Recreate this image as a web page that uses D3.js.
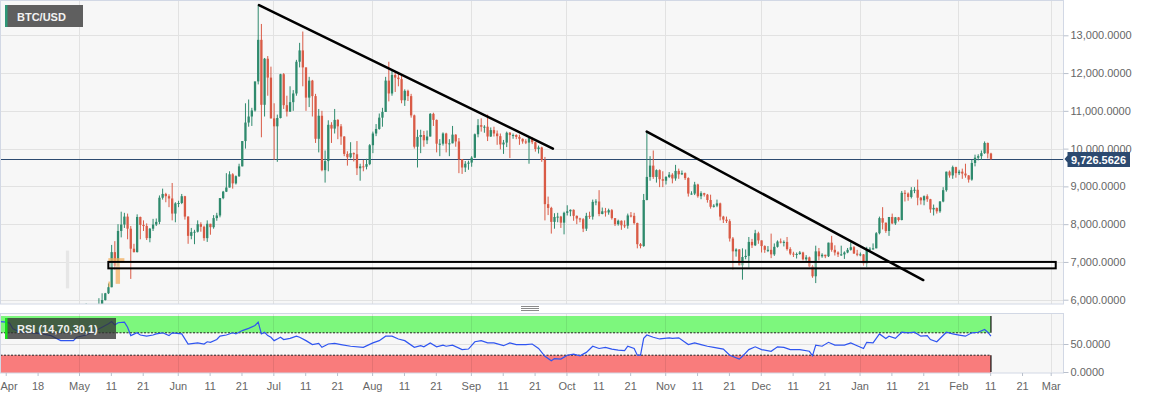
<!doctype html>
<html>
<head>
  <meta charset="utf-8">
  <title>BTC/USD</title>
  <script src="https://cdnjs.cloudflare.com/ajax/libs/d3/7.8.5/d3.min.js"></script>
  <style>
    html, body { margin: 0; padding: 0; background: #fff; }
    svg { display: block; font-family: "Liberation Sans", Arial, sans-serif; }
  </style>
</head>
<body>
<div id="chart"></div>
<script>
// daily candles, [open, high, low, close], one list per month
const may19 = [
  [5320,5400,5300,5385],[5385,5550,5370,5490],[5490,5900,5480,5750],[5750,5800,5550,5760],
  [5760,5780,5600,5720],[5720,5740,5600,5690],[5690,6040,5690,5860],[5860,6170,5830,5990],
  [5990,6180,5980,6170],[6170,6430,6150,6330],[6330,7450,6330,7260],[7260,7550,6800,6900],
  [6900,8000,6880,7820],[7820,8330,7650,7990],[7990,8300,7900,8200],[8200,8280,7600,7880],
  [7880,7950,6550,7350],[7350,7480,7250,7260],[7260,8260,7250,8190],[8190,8200,7600,7980],
  [7980,8100,7820,7950],[7950,8020,7580,7630],[7630,7900,7520,7880],[7880,8140,7820,7990],
  [7990,8150,7950,8060],[8060,8760,8000,8700],[8700,8940,8650,8800],[8800,8830,8580,8740],
  [8740,8790,8450,8680],[8680,9090,8100,8280],[8280,8580,8050,8550]
];
const jun19 = [
  [8550,8620,8450,8560],[8560,8800,8530,8740],[8740,8750,8120,8200],[8200,8210,7480,7690],
  [7690,7900,7600,7790],[7790,7850,7470,7800],[7800,8100,7780,8000],[8000,8050,7800,7930],
  [7930,7960,7560,7630],[7630,8100,7530,8010],[8010,8010,7720,7920],[7920,8240,7880,8160],
  [8160,8300,8090,8230],[8230,8690,8180,8690],[8690,8880,8660,8860],[8860,9350,8850,8970],
  [8970,9400,8970,9320],[9320,9350,8940,9080],[9080,9290,9050,9270],[9270,9600,9250,9530],
  [9530,10200,9530,10200],[10200,11200,10000,10690],[10690,11300,10580,10850],[10850,11080,10600,11010],
  [11010,11770,10980,11780],[11780,13800,11700,12880],[12880,13300,10300,11160],[11160,12400,10850,12380],
  [12380,12450,11400,11880],[11880,12170,10800,10800]
];
const jul19 = [
  [10800,11200,9700,10590],[10590,10900,9650,10810],[10810,11980,10800,11970],[11970,12000,11050,11150],
  [11150,11400,10850,10980],[10980,11650,10970,11230],[11230,11550,11000,11460],[11460,12350,11400,12300],
  [12300,12800,12150,12600],[12600,13100,11650,12150],[12150,12150,11000,11350],[11350,11900,11100,11800],
  [11800,11820,10850,11390],[11390,11450,10150,10260],[10260,11050,9900,10870],[10870,11000,9400,9430],
  [9430,9950,9100,9670],[9670,10750,9400,10630],[10630,10700,10150,10530],[10530,11050,10400,10760],
  [10760,10780,10250,10590],[10590,10650,10100,10320],[10320,10330,9800,9860],[9860,9930,9550,9770],
  [9770,10170,9740,9880],[9880,9900,9660,9850],[9850,10200,9300,9480],[9480,9600,9150,9530],
  [9530,9700,9400,9520],[9520,9730,9450,9590],[9590,10120,9560,10090]
];
const aug19 = [
  [10090,10450,9880,10400],[10400,10650,10330,10520],[10520,10930,10500,10820],[10820,11080,10580,10970],
  [10970,11900,10970,11800],[11800,12300,11250,11460],[11460,12100,11400,11950],[11950,12050,11500,11880],
  [11880,12030,11650,11840],[11840,11930,11200,11280],[11280,11570,11130,11530],[11530,11560,11260,11390],
  [11390,11450,10820,10880],[10880,10900,10000,10050],[10050,10500,9500,10310],[10310,10500,9880,10360],
  [10360,10470,10050,10220],[10220,10480,10120,10320],[10320,10940,10320,10920],[10920,10950,10600,10760],
  [10760,10770,9900,10130],[10130,10250,9800,10130],[10130,10430,10080,10400],[10400,10420,9900,10130],
  [10130,10250,9800,10140],[10140,10600,10140,10370],[10370,10380,10050,10190],[10190,10280,9350,9720],
  [9720,9720,9330,9500],[9500,9670,9380,9600],[9600,9680,9440,9630]
];
const sep19 = [
  [9630,9800,9520,9760],[9760,10400,9750,10380],[10380,10780,10300,10620],[10620,10800,10450,10580],
  [10580,10620,10420,10580],[10580,10900,10200,10320],[10320,10560,10310,10490],[10490,10580,10320,10400],
  [10400,10480,10100,10330],[10330,10400,9980,10110],[10110,10230,9860,10160],[10160,10450,10040,10420],
  [10420,10440,9750,10360],[10360,10400,10260,10360],[10360,10380,10250,10310],[10310,10370,10100,10260],
  [10260,10270,10130,10190],[10190,10250,10120,10160],[10160,10300,9600,10280],[10280,10300,10120,10170],
  [10170,10180,9920,9990],[9990,10080,9870,10030],[10030,10050,9650,9700],[9700,9780,8100,8530],
  [8530,8730,8240,8430],[8430,8460,7750,8060],[8060,8290,7880,8190],[8190,8300,8050,8200],
  [8200,8220,7900,8040],[8040,8330,7730,8300]
];
const oct19 = [
  [8300,8500,8230,8340],[8340,8390,8210,8380],[8380,8390,8090,8220],[8220,8230,8000,8150],
  [8150,8170,8050,8130],[8130,8160,7790,7880],[7880,8300,7820,8220],[8220,8330,8140,8200],
  [8200,8650,8120,8590],[8590,8660,8500,8600],[8600,8900,8210,8270],[8270,8440,8260,8340],
  [8340,8430,8200,8310],[8310,8410,8250,8370],[8370,8400,8120,8160],[8160,8160,7950,8000],
  [8000,8120,7960,8090],[8090,8100,7850,7970],[7970,8100,7900,7960],[7960,8280,7880,8230],
  [8230,8320,8180,8220],[8220,8300,7990,8030],[8030,8040,7360,7470],[7470,7500,7360,7420],
  [7420,8800,7400,8640],[8640,10440,8630,9250],[9250,9800,9150,9550],[9550,9950,9200,9250],
  [9250,9450,9100,9430],[9430,9450,8980,9190],[9190,9400,8980,9150]
];
const nov19 = [
  [9150,9270,9050,9250],[9250,9380,9220,9310],[9310,9350,9080,9210],[9210,9570,9150,9410],
  [9410,9470,9200,9320],[9320,9420,9300,9350],[9350,9370,9170,9220],[9220,9240,8730,8810],
  [8810,8870,8780,8810],[8810,9120,8770,9050],[9050,9070,8700,8740],[8740,8870,8660,8820],
  [8820,8830,8730,8780],[8780,8800,8570,8640],[8640,8780,8410,8460],[8460,8530,8440,8490],
  [8490,8650,8450,8550],[8550,8570,8100,8200],[8200,8220,8030,8120],[8120,8200,8030,8080],
  [8080,8130,7540,7620],[7620,7660,6800,7280],[7280,7360,7140,7330],[7330,7340,6910,6910],
  [6910,7360,6530,7130],[7130,7330,7070,7160],[7160,7660,6850,7530],[7530,7610,7370,7440],
  [7440,7850,7420,7760],[7760,7800,7480,7570]
];
const dec19 = [
  [7570,7570,7250,7420],[7420,7440,7240,7320],[7320,7420,7260,7320],[7320,7750,7100,7200],
  [7200,7490,7160,7400],[7400,7570,7380,7540],[7540,7620,7490,7520],[7520,7570,7410,7530],
  [7530,7660,7300,7340],[7340,7390,7180,7220],[7220,7270,7130,7200],[7200,7250,7090,7210],
  [7210,7290,7190,7250],[7250,7270,7040,7070],[7070,7180,7030,7120],[7120,7140,6860,6880],
  [6880,6920,6580,6620],[6620,7430,6440,7280],[7280,7370,7040,7150],[7150,7230,7110,7190],
  [7190,7190,7100,7150],[7150,7510,7130,7510],[7510,7690,7270,7320],[7320,7440,7170,7250],
  [7250,7280,7130,7200],[7200,7430,7160,7200],[7200,7280,7080,7250],[7250,7370,7230,7320],
  [7320,7520,7300,7390],[7390,7420,7220,7220],[7220,7320,7150,7190]
];
const jan20 = [
  [7190,7250,7150,7200],[7200,7210,6900,6960],[6960,7400,6860,7340],[7340,7390,7280,7350],
  [7350,7490,7320,7360],[7360,7790,7360,7760],[7760,8200,7730,8160],[8160,8450,7860,8040],
  [8040,8040,7770,7820],[7820,8180,7690,8190],[8190,8280,8000,8020],[8020,8190,7980,8180],
  [8180,8190,8070,8110],[8110,8880,8100,8830],[8830,8900,8600,8810],[8810,8840,8620,8720],
  [8720,8980,8680,8900],[8900,8980,8820,8910],[8910,9180,8500,8700],[8700,8720,8520,8630],
  [8630,8760,8500,8740],[8740,8790,8590,8660],[8660,8670,8300,8390],[8390,8520,8230,8430],
  [8430,8440,8280,8340],[8340,8610,8300,8600],[8600,8980,8580,8900],[8900,9390,8860,9390],
  [9390,9420,9230,9290],[9290,9550,9200,9510],[9510,9520,9230,9350]
];
const feb20 = [
  [9350,9440,9300,9390],[9390,9470,9200,9340],[9340,9600,9230,9290],[9290,9300,9100,9180],
  [9180,9700,9150,9620],[9620,9840,9530,9760],[9760,9850,9690,9800],[9800,9950,9700,9880],
  [9880,10190,9860,10150],[10150,10160,9740,9870],[9870,9890,9700,9726.5626]
];
const candleMonths = [
  ["2019-05-01", may19], ["2019-06-01", jun19], ["2019-07-01", jul19], ["2019-08-01", aug19],
  ["2019-09-01", sep19], ["2019-10-01", oct19], ["2019-11-01", nov19], ["2019-12-01", dec19],
  ["2020-01-01", jan20], ["2020-02-01", feb20]
];
const lastPrice = 9726.5626;

// RSI (14)
const rsi = [
  ["2019-04-06",90],["2019-04-08",89],["2019-04-09",87],["2019-04-10",77],["2019-04-12",72],
  ["2019-04-16",70],["2019-04-19",68],["2019-04-22",65],["2019-04-25",56],["2019-04-29",56],
  ["2019-04-30",62],["2019-05-03",66],["2019-05-06",74],["2019-05-08",80],["2019-05-10",86],
  ["2019-05-11",90],["2019-05-12",84],["2019-05-13",88],["2019-05-15",89],["2019-05-16",80],
  ["2019-05-17",65],["2019-05-19",70],["2019-05-20",66],["2019-05-22",64],["2019-05-24",66],
  ["2019-05-25",68],["2019-05-27",70],["2019-05-29",65],["2019-05-30",70],["2019-06-02",68],
  ["2019-06-04",50],["2019-06-07",52],["2019-06-09",50],["2019-06-10",54],["2019-06-11",53],
  ["2019-06-13",58],["2019-06-14",64],["2019-06-16",66],["2019-06-18",70],["2019-06-19",68],
  ["2019-06-21",74],["2019-06-23",78],["2019-06-25",83],["2019-06-26",89],["2019-06-27",68],
  ["2019-06-28",71],["2019-06-29",65],["2019-06-30",62],["2019-07-01",56],["2019-07-02",59],
  ["2019-07-03",62],["2019-07-04",58],["2019-07-06",60],["2019-07-08",64],["2019-07-09",62],
  ["2019-07-11",56],["2019-07-13",49],["2019-07-15",51],["2019-07-16",44],["2019-07-18",50],
  ["2019-07-20",51],["2019-07-22",49],["2019-07-25",46],["2019-07-29",44],["2019-08-01",52],
  ["2019-08-03",56],["2019-08-05",64],["2019-08-07",64],["2019-08-09",59],["2019-08-11",56],
  ["2019-08-14",44],["2019-08-16",47],["2019-08-17",45],["2019-08-19",52],["2019-08-21",45],
  ["2019-08-23",48],["2019-08-24",46],["2019-08-26",48],["2019-08-29",40],["2019-08-31",41],
  ["2019-09-02",54],["2019-09-04",56],["2019-09-06",52],["2019-09-08",52],["2019-09-11",47],
  ["2019-09-13",52],["2019-09-15",49],["2019-09-18",49],["2019-09-20",50],["2019-09-22",42],
  ["2019-09-24",28],["2019-09-26",20],["2019-09-27",24],["2019-09-29",23],["2019-10-01",30],
  ["2019-10-03",32],["2019-10-05",29],["2019-10-07",35],["2019-10-09",46],["2019-10-11",42],
  ["2019-10-13",44],["2019-10-15",41],["2019-10-17",39],["2019-10-19",38],["2019-10-20",46],
  ["2019-10-22",42],["2019-10-23",30],["2019-10-24",30],["2019-10-25",60],["2019-10-26",66],
  ["2019-10-28",62],["2019-10-30",59],["2019-11-02",61],["2019-11-03",60],["2019-11-05",61],
  ["2019-11-08",49],["2019-11-10",52],["2019-11-12",49],["2019-11-14",46],["2019-11-16",44],
  ["2019-11-19",41],["2019-11-21",30],["2019-11-24",23],["2019-11-25",28],["2019-11-27",40],
  ["2019-11-29",45],["2019-12-01",40],["2019-12-04",37],["2019-12-06",45],["2019-12-08",44],
  ["2019-12-10",40],["2019-12-13",40],["2019-12-16",37],["2019-12-17",29],["2019-12-18",48],
  ["2019-12-20",46],["2019-12-22",53],["2019-12-24",48],["2019-12-27",48],["2019-12-29",52],
  ["2019-12-31",47],["2020-01-02",42],["2020-01-03",53],["2020-01-05",52],["2020-01-07",68],
  ["2020-01-09",60],["2020-01-10",64],["2020-01-12",60],["2020-01-14",71],["2020-01-16",70],
  ["2020-01-18",71],["2020-01-20",64],["2020-01-22",65],["2020-01-23",58],["2020-01-25",54],
  ["2020-01-28",71],["2020-01-30",68],["2020-02-01",66],["2020-02-03",64],["2020-02-05",70],
  ["2020-02-07",71],["2020-02-09",76],["2020-02-10",71],["2020-02-11",64]
];

// axis ticks
const priceTicks = [6000, 7000, 8000, 9000, 10000, 11000, 12000, 13000];
const rsiTicks = [0, 50];
const xTickDates = ["2019-04-08","2019-04-18","2019-05-01","2019-05-11","2019-05-21","2019-06-01","2019-06-11",
  "2019-06-21","2019-07-01","2019-07-11","2019-07-21","2019-08-01","2019-08-11","2019-08-21","2019-09-01",
  "2019-09-11","2019-09-21","2019-10-01","2019-10-11","2019-10-21","2019-11-01","2019-11-11","2019-11-21",
  "2019-12-01","2019-12-11","2019-12-21","2020-01-01","2020-01-11","2020-01-21","2020-02-01","2020-02-11",
  "2020-02-21","2020-03-01"];
const xTickLabels = ["Apr","18","May","11","21","Jun","11","21","Jul","11","21","Aug","11","21","Sep",
  "11","21","Oct","11","21","Nov","11","21","Dec","11","21","Jan","11","21","Feb","11","21","Mar"];

// drawings on the price panel
const trendLines = [
  [["2019-06-26T12:00", 13800], ["2019-09-26T18:00", 10000]],
  [["2019-10-26T05:00", 10450], ["2020-01-21T00:00", 6520]]
];
const supportZone = [["2019-05-10T05:00", 7000], ["2020-03-02T14:00", 6830]];
const highlights = [
  [["2019-05-10T05:00", 7100], ["2019-05-15T06:00", 7000]],
  [["2019-05-12T12:00", 7000], ["2019-05-13T21:00", 6420]],
  [["2019-05-10T05:00", 6480], ["2019-05-10T20:00", 6340]]
];
const greyMark = [["2019-04-26T21:00", 7300], ["2019-04-27T22:00", 6300]];

// ---------------------------------------------------------------
const W = 1153, H = 399;
const main = { left: 0.5, right: 1063.5, top: 0.5, bottom: 304 };
const low = { top: 313.5, bottom: 373 };
const green = '#2f8a6d', red = '#d95b46';
const fontFam = '"Liberation Sans", Arial, sans-serif';
const crisp = v => Math.round(v) + 0.5;

const parseDay = d3.utcParse('%Y-%m-%d');
const parseHour = d3.utcParse('%Y-%m-%dT%H:%M');

const candles = [];
candleMonths.forEach(([start, rows]) => {
  const d0 = parseDay(start);
  rows.forEach((r, i) => candles.push({ date: d3.utcDay.offset(d0, i), o: r[0], h: r[1], l: r[2], c: r[3] }));
});

const x = d3.scaleUtc()
  .domain([parseDay('2019-05-01'), parseDay('2020-02-01')])
  .range([79, 958.3]);
const y = d3.scaleLinear().domain([6000, 13000]).range([299.7, 35.3]);
const ry = d3.scaleLinear().domain([0, 100]).range([372, 316]);
// bars sit a quarter day right of the date line
const cx = d => x(d3.utcHour.offset(d, 6));

const svg = d3.select('#chart').append('svg').attr('width', W).attr('height', H);
svg.append('rect').attr('width', W).attr('height', H).attr('fill', '#fff');

const defs = svg.append('defs');
defs.append('clipPath').attr('id', 'clipMain').append('rect')
  .attr('x', main.left).attr('y', main.top)
  .attr('width', main.right - main.left).attr('height', main.bottom - main.top);
defs.append('clipPath').attr('id', 'clipLow').append('rect')
  .attr('x', main.left).attr('y', low.top)
  .attr('width', main.right - main.left).attr('height', low.bottom - low.top);

// panel backgrounds
[[main.top, main.bottom], [low.top, low.bottom]].forEach(([t, b]) => {
  svg.append('rect').attr('x', main.left).attr('y', t)
    .attr('width', main.right - main.left).attr('height', b - t)
    .attr('fill', '#f7f7f7');
});

const months = d3.utcMonth.range(parseDay('2019-04-01'), parseDay('2020-03-02'));

// ---------- price panel ----------
const gMain = svg.append('g').attr('clip-path', 'url(#clipMain)');
gMain.selectAll('.hgrid').data(priceTicks).join('line')
  .attr('x1', main.left).attr('x2', main.right)
  .attr('y1', d => crisp(y(d))).attr('y2', d => crisp(y(d)))
  .attr('stroke', '#e2e2e2').attr('stroke-width', 1);
gMain.selectAll('.vgrid').data(months).join('line')
  .attr('x1', d => crisp(x(d))).attr('x2', d => crisp(x(d)))
  .attr('y1', main.top).attr('y2', main.bottom)
  .attr('stroke', '#e2e2e2').attr('stroke-width', 1);

gMain.append('rect')
  .attr('x', x(parseHour(greyMark[0][0]))).attr('y', y(greyMark[0][1]))
  .attr('width', x(parseHour(greyMark[1][0])) - x(parseHour(greyMark[0][0])))
  .attr('height', y(greyMark[1][1]) - y(greyMark[0][1]))
  .attr('fill', '#e6e6e6');

// last price line
gMain.append('line')
  .attr('x1', main.left).attr('x2', main.right)
  .attr('y1', crisp(y(lastPrice))).attr('y2', crisp(y(lastPrice)))
  .attr('stroke', '#2c4a70').attr('stroke-width', 1);

const bars = gMain.append('g').selectAll('g').data(candles).join('g');
bars.append('line')
  .attr('x1', d => cx(d.date)).attr('x2', d => cx(d.date))
  .attr('y1', d => y(d.h)).attr('y2', d => y(d.l))
  .attr('stroke', d => d.c >= d.o ? green : red).attr('stroke-width', 1);
bars.append('rect')
  .attr('x', d => cx(d.date) - 1.15).attr('width', 2.3)
  .attr('y', d => y(Math.max(d.o, d.c)))
  .attr('height', d => Math.max(1, Math.abs(y(d.o) - y(d.c))))
  .attr('fill', d => d.c >= d.o ? green : red);

gMain.selectAll('.hl').data(highlights).join('rect')
  .attr('x', d => x(parseHour(d[0][0]))).attr('y', d => y(d[0][1]))
  .attr('width', d => x(parseHour(d[1][0])) - x(parseHour(d[0][0])))
  .attr('height', d => y(d[1][1]) - y(d[0][1]))
  .attr('fill', '#f3b061').attr('opacity', 0.75);

gMain.append('rect')
  .attr('x', x(parseHour(supportZone[0][0]))).attr('y', y(supportZone[0][1]))
  .attr('width', x(parseHour(supportZone[1][0])) - x(parseHour(supportZone[0][0])))
  .attr('height', y(supportZone[1][1]) - y(supportZone[0][1]))
  .attr('fill', 'rgba(255,255,255,0.35)').attr('stroke', '#000').attr('stroke-width', 2);

gMain.selectAll('.trend').data(trendLines).join('line')
  .attr('x1', d => x(parseHour(d[0][0]))).attr('y1', d => y(d[0][1]))
  .attr('x2', d => x(parseHour(d[1][0]))).attr('y2', d => y(d[1][1]))
  .attr('stroke', '#000').attr('stroke-width', 2.5).attr('stroke-linecap', 'round');

svg.append('rect').attr('x', main.left).attr('y', main.top)
  .attr('width', main.right - main.left).attr('height', main.bottom - main.top)
  .attr('fill', 'none').attr('stroke', '#d2d8e5');

// price axis
const styleAxis = g => {
  g.select('.domain').remove();
  g.selectAll('line').attr('stroke', '#b9c0cc');
  g.selectAll('text').attr('fill', '#666').attr('font-size', 11).attr('font-family', fontFam);
};
svg.append('g').attr('transform', `translate(${main.right},0)`)
  .call(d3.axisRight(y).tickValues(priceTicks).tickFormat(d3.format(',.4f')).tickSize(5).tickPadding(2))
  .call(styleAxis);

// last price tag
const ly = Math.round(y(lastPrice));
svg.append('path')
  .attr('d', `M${main.right + 1},${ly} L${main.right + 4},${ly - 3.5} L${main.right + 4},${ly - 7} L1130,${ly - 7} L1130,${ly + 8} L${main.right + 4},${ly + 8} L${main.right + 4},${ly + 3.5} Z`)
  .attr('fill', '#2c4a70');
svg.append('text').attr('x', 1071).attr('y', ly + 4.5)
  .attr('fill', '#fff').attr('font-size', 11).attr('font-weight', 'bold')
  .attr('font-family', fontFam)
  .text(d3.format(',.4f')(lastPrice));

// BTC/USD tag
svg.append('rect').attr('x', 5).attr('y', 5).attr('width', 78).attr('height', 22).attr('fill', '#5f5f5f');
svg.append('rect').attr('x', 5).attr('y', 5).attr('width', 2.5).attr('height', 22).attr('fill', '#2e9777');
svg.append('text').attr('x', 17).attr('y', 20.5)
  .attr('fill', '#f2f2f2').attr('font-size', 11).attr('font-weight', 'bold')
  .attr('font-family', fontFam).text('BTC/USD');

// splitter handle
svg.append('g').selectAll('line').data([0, 2, 4]).join('line')
  .attr('x1', 521).attr('x2', 539)
  .attr('y1', d => 306.5 + d).attr('y2', d => 306.5 + d)
  .attr('stroke', '#8a8a8a').attr('stroke-width', 1);

// ---------- RSI panel ----------
const gLow = svg.append('g').attr('clip-path', 'url(#clipLow)');
const lastX = cx(candles[candles.length - 1].date);
gLow.append('rect').attr('x', main.left).attr('y', ry(100))
  .attr('width', lastX - main.left).attr('height', ry(70) - ry(100))
  .attr('fill', '#7df77d');
gLow.append('rect').attr('x', main.left).attr('y', ry(30))
  .attr('width', lastX - main.left).attr('height', low.bottom - ry(30))
  .attr('fill', '#f97c7c');
[70, 30].forEach(v => {
  gLow.append('line').attr('x1', main.left).attr('x2', lastX)
    .attr('y1', ry(v)).attr('y2', ry(v))
    .attr('stroke', '#222').attr('stroke-width', 1).attr('stroke-dasharray', '2,1.5');
});
[[100, 70], [30, 0]].forEach(([a, b]) => {
  gLow.append('line').attr('x1', lastX).attr('x2', lastX)
    .attr('y1', ry(a)).attr('y2', ry(b)).attr('stroke', '#111').attr('stroke-width', 1.2);
});
gLow.selectAll('.vgrid').data(months).join('line')
  .attr('x1', d => crisp(x(d))).attr('x2', d => crisp(x(d)))
  .attr('y1', low.top).attr('y2', low.bottom)
  .attr('stroke', 'rgba(0,0,0,0.08)');
gLow.append('line').attr('x1', main.left).attr('x2', main.right)
  .attr('y1', crisp(ry(50))).attr('y2', crisp(ry(50))).attr('stroke', 'rgba(0,0,0,0.09)');

gLow.append('path')
  .datum(rsi)
  .attr('fill', 'none').attr('stroke', '#2f55f0').attr('stroke-width', 1.2)
  .attr('d', d3.line().x(d => cx(parseDay(d[0]))).y(d => ry(d[1])));

svg.append('rect').attr('x', main.left).attr('y', low.top)
  .attr('width', main.right - main.left).attr('height', low.bottom - low.top)
  .attr('fill', 'none').attr('stroke', '#d2d8e5');

// RSI tag
svg.append('rect').attr('x', 5).attr('y', 318).attr('width', 111).attr('height', 21)
  .attr('fill', '#333').attr('opacity', 0.78);
svg.append('rect').attr('x', 5).attr('y', 318).attr('width', 2.5).attr('height', 21).attr('fill', '#19e019');
svg.append('text').attr('x', 17).attr('y', 333)
  .attr('fill', '#f0f0f0').attr('font-size', 11).attr('font-weight', 'bold')
  .attr('font-family', fontFam).text('RSI (14,70,30,1)');

svg.append('g').attr('transform', `translate(${main.right},0)`)
  .call(d3.axisRight(ry).tickValues(rsiTicks).tickFormat(d3.format(',.4f')).tickSize(5).tickPadding(2))
  .call(styleAxis);

// time axis
const tickDates = xTickDates.map(parseDay);
svg.append('g').attr('transform', `translate(0,${low.bottom})`)
  .call(d3.axisBottom(x).tickValues(tickDates)
    .tickFormat((d, i) => xTickLabels[i]).tickSize(3).tickPadding(6))
  .call(styleAxis)
  .call(g => g.selectAll('text').each(function (d) {
    const px = x(d), w = this.getComputedTextLength();
    if (px - w / 2 < 0) d3.select(this).attr('text-anchor', 'start').attr('x', -px);
  }));
</script>
</body>
</html>
